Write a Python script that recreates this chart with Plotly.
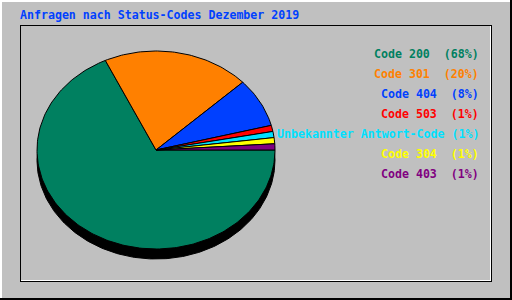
import numpy as np
import plotly.graph_objects as go

# ---- data ----
labels = ["Code 200", "Code 301", "Code 404", "Code 503",
          "Unbekannter Antwort-Code", "Code 304", "Code 403"]
values = [68, 20, 8, 1, 1, 1, 1]
colors = ["#008060", "#FF8000", "#0040FF", "#FF0000", "#00E0FF", "#FFFF00", "#800080"]
title = "Anfragen nach Status-Codes Dezember 2019"

# ---- layout constants (pixels) ----
W, H = 512, 300
CX, CY = 156, 150
RX, RY = 119, 99
DEPTH = 10
FONT = "DejaVu Sans Mono"
FS = 11.6

fig = go.Figure()

def ellipse_pts(cy, a0, a1, n=200):
    t = np.linspace(a0, a1, n)
    return CX + RX * np.cos(t), cy + RY * np.sin(t)

# shadow / 3D side
sx, sy = ellipse_pts(CY + DEPTH, 0, 2 * np.pi, 360)
fig.add_trace(go.Scatter(x=sx, y=sy, fill="toself", fillcolor="black",
                         line=dict(color="black", width=1), mode="lines",
                         hoverinfo="skip", showlegend=False))

total = float(sum(values))
ang = 0.0
for lab, v, c in zip(labels, values, colors):
    a0 = ang
    a1 = ang + 2 * np.pi * v / total
    ang = a1
    n = max(4, int(300 * v / total) + 2)
    ex, ey = ellipse_pts(CY, a0, a1, n)
    px = np.concatenate([[CX], ex, [CX]])
    py = np.concatenate([[CY], ey, [CY]])
    fig.add_trace(go.Scatter(x=px, y=py, fill="toself", fillcolor=c,
                             line=dict(color="black", width=1), mode="lines",
                             name=lab, hoverinfo="skip", showlegend=False))

# legend text
for i, (lab, v, c) in enumerate(zip(labels, values, colors)):
    sep = " " if len(lab) > 20 else "  "
    txt = f"<b>{lab}{sep}({int(round(100 * v / total))}%)</b>"
    fig.add_annotation(x=480, y=54 + 20 * i, xref="x", yref="y", text=txt,
                       showarrow=False, xanchor="right", yanchor="middle",
                       font=dict(family=FONT, size=FS, color=c), borderpad=0)

# title
fig.add_annotation(x=19, y=15, xref="x", yref="y", text=f"<b>{title}</b>",
                   showarrow=False, xanchor="left", yanchor="middle",
                   font=dict(family=FONT, size=FS, color="#0040FF"), borderpad=0)

def hline(y, x0, x1, col, w=1):
    fig.add_shape(type="line", x0=x0, x1=x1, y0=y, y1=y, xref="x", yref="y",
                  line=dict(color=col, width=w), layer="above")

def vline(x, y0, y1, col, w=1):
    fig.add_shape(type="line", x0=x, x1=x, y0=y0, y1=y1, xref="x", yref="y",
                  line=dict(color=col, width=w), layer="above")

# outer border
hline(1, 0, W, "white", 2)
vline(1, 0, H, "white", 2)
hline(H - 1, 0, W, "black", 2)
vline(W - 1, 0, H, "black", 2)
# inner border
hline(25.5, 20, 492, "black")
vline(20.5, 25, 282, "black")
hline(281.5, 20, 492, "black")
vline(491.5, 25, 282, "black")
hline(280.5, 21, 491, "white")
vline(490.5, 26, 281, "white")

fig.update_layout(
    width=W, height=H, margin=dict(l=0, r=0, t=0, b=0),
    paper_bgcolor="#C0C0C0", plot_bgcolor="#C0C0C0",
    xaxis=dict(range=[0, W], visible=False, fixedrange=True),
    yaxis=dict(range=[H, 0], visible=False, fixedrange=True),
    showlegend=False,
)
fig.write_html("out.html")
